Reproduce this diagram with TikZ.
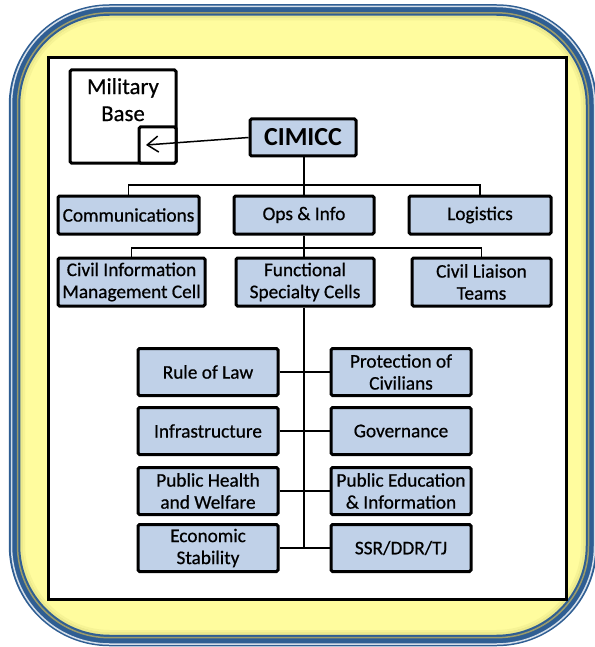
\documentclass[tikz,border=0pt]{standalone}
\usepackage{fontspec}
\setmainfont{Carlito}
\newfontfamily\cellfont{Carlito}[FakeBold=0.6]
\usetikzlibrary{arrows.meta}
\definecolor{boxblue}{HTML}{C0D1E8}
\definecolor{frameblue}{HTML}{2F5E93}
\definecolor{frameyellow}{HTML}{FFFC9E}
\definecolor{frameolive}{HTML}{9C9C6A}
\definecolor{frameshade}{HTML}{ECE98C}
\begin{document}
\begin{tikzpicture}[x=1bp,y=-1bp,
  cell/.style={draw, line width=3bp, fill=boxblue, rounded corners=1.5bp,
    align=center, inner sep=0pt, font=\cellfont\fontsize{19.3bp}{22bp}\selectfont,
    minimum height=47bp},
  conn/.style={line width=1.5bp},
  plainbox/.style={draw, line width=3bp, fill=white, rounded corners=1.5bp, inner sep=0pt}]
\useasboundingbox (0,0) rectangle (595,647);
% outer frame
\fill[frameyellow, rounded corners=95bp] (14.5,10) rectangle (591.5,640.5);
\draw[frameshade, line width=3bp, rounded corners=88bp] (21.5,17) rectangle (584.5,633.5);
\draw[frameshade!50!frameyellow, line width=2bp, rounded corners=86bp] (24,19.5) rectangle (582,631);
\draw[frameblue, line width=11.5bp, rounded corners=95bp] (14.5,10) rectangle (591.5,640.5);
\draw[white!80!frameblue, line width=1.5bp, rounded corners=98bp] (11.5,6.5) rectangle (594.5,644);
\draw[frameolive, line width=1.5bp, rounded corners=92bp] (17.5,12.8) rectangle (588.5,637.7);
% inner white panel
\draw[line width=3bp, fill=white] (48,58) rectangle (566,599);
% military base
\node[plainbox, minimum width=106bp, minimum height=93bp] (base) at (123,116.5) {};
\node[font=\cellfont\fontsize{22.8bp}{27bp}\selectfont, align=center, anchor=north, inner sep=0pt] (basetxt) at (123,78) {Military\\Base};
\node[plainbox, minimum width=37bp, minimum height=36bp, anchor=south east] (dock) at (base.south east) {};
\coordinate (mbin) at (146,145);
% CIMICC
\node[cell, minimum width=106bp, minimum height=37bp, font=\bfseries\fontsize{26bp}{30bp}\selectfont] (cimicc) at (303,137.5) {CIMICC};
\draw[conn, -{Straight Barb[length=11bp,width=16bp,line width=1.5bp]}] (cimicc.west) -- (mbin);
% row 1
\node[cell, minimum width=141bp, minimum height=38bp] (comm) at (128.5,215) {Communications};
\node[cell, minimum width=140bp, minimum height=38bp] (ops) at (304,215) {Ops \& Info};
\node[cell, minimum width=142bp, minimum height=38bp] (log) at (480,215) {Logistics};
\coordinate (bus1) at (304,185);
\draw[conn] (cimicc.south -| bus1) -- (ops.north);
\draw[conn] (comm.north) |- (bus1) -| (log.north);
% row 2
\node[cell, minimum width=147bp, minimum height=48bp] (cimc) at (131.5,282) {Civil Information\\Management Cell};
\node[cell, minimum width=138bp, minimum height=48bp] (fsc) at (305,282) {Functional\\Specialty Cells};
\node[cell, minimum width=139bp, minimum height=48bp] (clt) at (481.5,282) {Civil Liaison\\Teams};
\coordinate (bus2) at (304,248);
\draw[conn] (ops.south) -- (ops.south |- fsc.north);
\draw[conn] (cimc.north) |- (bus2) -| (clt.north);
% functional specialty cells
\node[cell, minimum width=140bp] (rol) at (208,372) {Rule of Law};
\node[cell, minimum width=140bp] (poc) at (401,372) {Protection of\\Civilians};
\node[cell, minimum width=140bp] (infra) at (208,431) {Infrastructure};
\node[cell, minimum width=140bp] (gov) at (401,431) {Governance};
\node[cell, minimum width=140bp] (phw) at (208,491) {Public Health\\and Welfare};
\node[cell, minimum width=140bp] (ped) at (401,491) {Public Education\\\& Information};
\node[cell, minimum width=140bp] (eco) at (208,548) {Economic\\Stability};
\node[cell, minimum width=140bp] (ssr) at (401,548) {SSR/DDR/TJ};
\coordinate (spine) at (304,548);
\draw[conn] (spine |- fsc.south) -- (spine);
\draw[conn] (rol.east) -- (poc.west);
\draw[conn] (infra.east) -- (gov.west);
\draw[conn] (phw.east) -- (ped.west);
\draw[conn] (eco.east) -- (ssr.west);
\end{tikzpicture}
\end{document}
